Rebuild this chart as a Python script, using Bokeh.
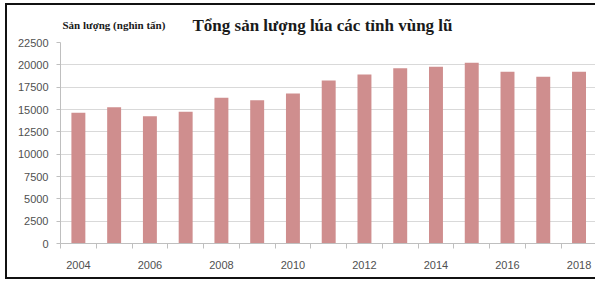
from bokeh.plotting import figure
from bokeh.layouts import column
from bokeh.models import Range1d, FixedTicker, Label, CustomJSTickFormatter
from bokeh.embed import file_html
from bokeh.resources import INLINE

years = [2004, 2005, 2006, 2007, 2008, 2009, 2010, 2011, 2012, 2013, 2014, 2015, 2016, 2017, 2018]
production = [14630, 15260, 14250, 14740, 16310, 16040, 16800, 18250, 18920, 19620, 19780, 20230, 19220, 18660, 19220]
y_ticks = [0, 2500, 5000, 7500, 10000, 12500, 15000, 17500, 20000, 22500]
x_label_years = [2004, 2006, 2008, 2010, 2012, 2014, 2016, 2018]
title_text = "Tổng sản lượng lúa các tỉnh vùng lũ"
ylabel_text = "Sản lượng (nghìn tấn)"

W, H = 595, 280
TOP_H = 36

# header strip (its frame is aligned with the chart frame, which starts 60px in)
top = figure(width=W, height=TOP_H, output_backend="svg", toolbar_location=None,
             x_axis_type=None, y_axis_type=None, min_border=0,
             x_range=Range1d(0, W), y_range=Range1d(0, TOP_H))
top.outline_line_color = None
top.background_fill_color = None
top.border_fill_color = None
top.grid.grid_line_color = None
top.add_layout(Label(x=262, y=TOP_H - 25, x_units="screen", y_units="screen", text=title_text,
                     text_font="Liberation Serif", text_font_style="bold", text_font_size="17px",
                     text_color="#1a1a1a", text_align="center", text_baseline="middle"))
top.add_layout(Label(x=2, y=TOP_H - 24, x_units="screen", y_units="screen", text=ylabel_text,
                     text_font="Liberation Serif", text_font_style="bold", text_font_size="11px",
                     text_color="#1a1a1a", text_align="left", text_baseline="middle"))

p = figure(width=W, height=H - TOP_H, output_backend="svg", toolbar_location=None,
           x_range=Range1d(years[0] - 0.5, years[0] - 0.5 + 535 / 35.76),
           y_range=Range1d(y_ticks[0], y_ticks[-1]),
           min_border_left=60, min_border_right=0, min_border_top=6, min_border_bottom=37)

p.vbar(x=years, top=production, width=0.39, fill_color="#cf8e8e", line_color=None)

p.outline_line_color = None
p.background_fill_color = "white"
p.border_fill_color = None

xa = p.xaxis[0]
xa.ticker = FixedTicker(ticks=x_label_years, minor_ticks=[y - 0.5 for y in years] + [years[-1] + 0.5])
xa.axis_line_color = "#bfbfbf"
xa.major_tick_line_color = None
xa.major_tick_out = 0
xa.major_tick_in = 0
xa.minor_tick_line_color = "#bfbfbf"
xa.minor_tick_out = 5
xa.minor_tick_in = 0
xa.major_label_standoff = 12
xa.major_label_text_font = "Liberation Sans"
xa.major_label_text_font_size = "11px"
xa.major_label_text_color = "#505050"
xa.formatter = CustomJSTickFormatter(code="return tick.toFixed(0);")

ya = p.yaxis[0]
ya.ticker = FixedTicker(ticks=y_ticks, minor_ticks=[])
ya.axis_line_color = "#bfbfbf"
ya.major_tick_line_color = "#bfbfbf"
ya.major_tick_out = 4
ya.major_tick_in = 0
ya.minor_tick_line_color = None
ya.major_label_standoff = 8
ya.major_label_text_font = "Liberation Sans"
ya.major_label_text_font_size = "11px"
ya.major_label_text_color = "#505050"
ya.formatter = CustomJSTickFormatter(code="return tick.toFixed(0);")

p.xgrid.grid_line_color = None
p.ygrid.grid_line_color = "#d9d9d9"
p.ygrid.ticker = FixedTicker(ticks=y_ticks)

layout = column(top, p, spacing=0)
layout.styles = {
    "background": ("linear-gradient(#111,#111) 5px 3px / 2px 276px no-repeat, "
                   "linear-gradient(#111,#111) 5px 3px / 600px 2px no-repeat, "
                   "linear-gradient(#111,#111) 5px 277px / 600px 2px no-repeat, white"),
}

open("out.html", "w").write(file_html(layout, INLINE))
